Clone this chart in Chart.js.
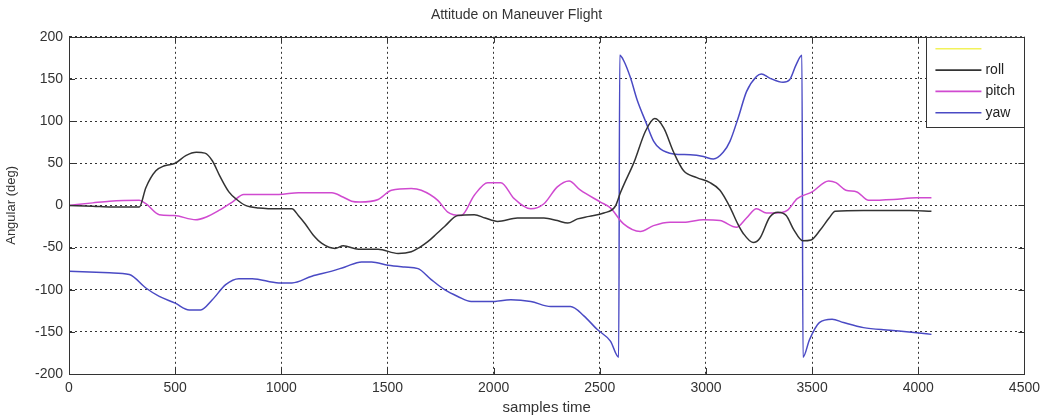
<!DOCTYPE html>
<html>
<head>
<meta charset="utf-8">
<script src="https://cdn.jsdelivr.net/npm/chart.js@4.4.1/dist/chart.umd.min.js"></script>
<style>
html,body{margin:0;padding:0;background:#fff;}
#wrap{width:1046px;height:418px;}
</style>
</head>
<body>
<div id="wrap"><canvas id="c" width="1046" height="418"></canvas></div>
<script>
const chartTitle = "Attitude on Maneuver Flight";
const xTitle = "samples time";
const yTitle = "Angular (deg)";
const seriesLabels = ["", "roll", "pitch", "yaw"];
const xTicks = [0, 500, 1000, 1500, 2000, 2500, 3000, 3500, 4000, 4500];
const yTicks = [-200, -150, -100, -50, 0, 50, 100, 150, 200];

const rollX = [0,112,200,331,362,409,450,500,550,600,640,675,710,753,790,831,894,1000,1050,1080,1113,1150,1191,1253,1292,1363,1456,1550,1612,1650,1690,1730,1769,1831,1909,1960,2019,2112,2237,2300,2349,2395,2450,2519,2573,2597,2614,2661,2715,2759,2801,2848,2895,2957,3019,3066,3113,3150,3175,3222,3254,3300,3339,3378,3414,3456,3495,3539,3580,3609,3742,3961,4062];
const rollY = [0,-1,-2,-2,21,41,47,50,59,63,62,53,35,16,7,0,-3,-4,-4,-12,-22,-35,-45,-51,-48,-52,-52,-57,-55,-50,-43,-34,-25,-12,-11,-15,-19,-15,-15,-18,-21,-16,-13,-9,-1,15,25,51,88,103,92,63,41,33,27,18,-2,-22,-33,-44,-39,-14,-8,-12,-29,-42,-41,-29,-15,-7,-6,-6,-7];

const pitchX = [0,112,191,331,362,425,495,597,644,706,769,823,988,1081,1238,1290,1331,1370,1456,1519,1612,1659,1737,1784,1847,1909,1972,2034,2097,2175,2237,2300,2355,2409,2503,2550,2612,2691,2753,2831,2895,2988,3066,3144,3191,3238,3285,3331,3383,3430,3500,3578,3612,3659,3711,3766,3883,3992,4062];
const pitchY = [0,3,5,6,2,-11,-12,-17,-14,-6,4,13,13,15,15,10,5,4,7,18,20,18,6,-8,-12,12,27,27,8,-4,2,22,29,18,4,-3,-22,-31,-24,-20,-20,-17,-18,-26,-15,-4,-9,-9,-6,8,16,29,27,18,16,6,7,9,9];

const yawX = [0,191,284,362,425,500,566,620,675,738,800,863,988,1050,1144,1238,1300,1378,1425,1503,1581,1644,1706,1769,1831,1894,1987,2081,2175,2269,2362,2425,2487,2550,2589,2594,2614,2645,2676,2715,2754,2785,2848,2926,2988,3035,3081,3113,3152,3191,3238,3261,3300,3363,3394,3425,3452,3457,3488,3534,3594,3648,3742,3867,3992,4062];
const yawY = [-78,-80,-82,-98,-108,-116,-124,-124,-112,-94,-87,-87,-92,-92,-84,-78,-73,-67,-67,-71,-73,-75,-88,-100,-108,-114,-114,-112,-114,-120,-120,-131,-147,-161,-180,178,171,151,125,100,76,67,61,60,58,55,63,76,104,135,153,156,151,146,149,167,178,-180,-159,-139,-135,-139,-145,-148,-151,-153];

const colors = ["#f2f25a", "#333333", "#d04ad0", "#4a4ac4"];

function pts(xs, ys){ return xs.map((x,i)=>({x:x, y:ys[i]})); }

const boxPlugin = {
  id: 'boxPlugin',
  afterDraw(chart){
    const ctx = chart.ctx, a = chart.chartArea;
    const xs = chart.scales.x, ys = chart.scales.y;
    ctx.save();
    ctx.strokeStyle = '#333';
    ctx.lineWidth = 1;
    ctx.setLineDash([]);
    ctx.strokeRect(Math.round(a.left)+0.5, Math.round(a.top)+0.5, Math.round(a.right-a.left), Math.round(a.bottom-a.top));
    ctx.beginPath();
    xTicks.forEach(v=>{
      const px = Math.round(xs.getPixelForValue(v))+0.5;
      ctx.moveTo(px, a.bottom); ctx.lineTo(px, a.bottom-6);
      ctx.moveTo(px, a.top); ctx.lineTo(px, a.top+6);
    });
    yTicks.forEach(v=>{
      const py = Math.round(ys.getPixelForValue(v))+0.5;
      ctx.moveTo(a.left, py); ctx.lineTo(a.left+6, py);
      ctx.moveTo(a.right, py); ctx.lineTo(a.right-6, py);
    });
    ctx.stroke();
    const w = 98, h = 90;
    const lx = a.right - w, ly = a.top;
    ctx.fillStyle = '#fff';
    ctx.fillRect(lx, ly, w, h);
    ctx.strokeStyle = '#333';
    ctx.strokeRect(Math.round(lx)+0.5, Math.round(ly)+0.5, w, h);
    ctx.font = '14px "Liberation Sans", Arial, sans-serif';
    ctx.textBaseline = 'middle';
    ctx.textAlign = 'left';
    chart.data.datasets.forEach((ds,i)=>{
      const yy = ly + 12 + i*21.3;
      ctx.strokeStyle = ds.borderColor;
      ctx.lineWidth = 1.6;
      ctx.beginPath();
      ctx.moveTo(lx+9, yy); ctx.lineTo(lx+55, yy);
      ctx.stroke();
      ctx.fillStyle = '#222';
      ctx.fillText(ds.label, lx+59, yy);
    });
    ctx.restore();
  }
};

const datasets = [
  {label: seriesLabels[0], data: [], borderColor: colors[0]},
  {label: seriesLabels[1], data: pts(rollX, rollY), borderColor: colors[1]},
  {label: seriesLabels[2], data: pts(pitchX, pitchY), borderColor: colors[2]},
  {label: seriesLabels[3], data: pts(yawX, yawY), borderColor: colors[3]}
].map(d=>Object.assign(d, {borderWidth: 1.5, pointRadius: 0, fill: false, tension: 0, cubicInterpolationMode: 'monotone'}));

const fontFam = '"Liberation Sans", Arial, sans-serif';

new Chart(document.getElementById('c'), {
  type: 'line',
  data: { datasets: datasets },
  options: {
    responsive: false,
    animation: false,
    devicePixelRatio: 1,
    layout: { padding: { left: 0, right: 13, top: 0, bottom: 0 } },
    plugins: {
      legend: { display: false },
      tooltip: { enabled: false },
      title: {
        display: true, text: chartTitle, color: '#333',
        font: { family: fontFam, size: 14, weight: 'normal' },
        padding: { top: 7, bottom: 13 }
      }
    },
    scales: {
      x: {
        type: 'linear', min: 0, max: 4500,
        afterBuildTicks(s){ s.ticks = xTicks.map(v=>({value:v})); },
        afterFit(s){ s.height = 44; },
        grid: { color: '#333', lineWidth: 1, drawTicks: false },
        border: { display: true, color: '#333', dash: [2, 3] },
        ticks: { color: '#333', padding: 6, maxRotation: 0, autoSkip: false, font: { family: fontFam, size: 14 }, callback: v => String(v) },
        title: { display: true, text: xTitle, color: '#333', font: { family: fontFam, size: 15 }, padding: { top: 0, bottom: 1 } }
      },
      y: {
        type: 'linear', min: -200, max: 200,
        afterBuildTicks(s){ s.ticks = yTicks.map(v=>({value:v})); },
        afterFit(s){ s.width = 69; },
        grid: { color: '#333', lineWidth: 1, drawTicks: false },
        border: { display: true, color: '#333', dash: [2, 3] },
        ticks: { color: '#333', padding: 6, font: { family: fontFam, size: 14 }, callback: v => String(v) },
        title: { display: true, text: yTitle, color: '#333', font: { family: fontFam, size: 13 }, padding: { top: 4, bottom: 0 } }
      }
    }
  },
  plugins: [boxPlugin]
});
</script>
</body>
</html>
